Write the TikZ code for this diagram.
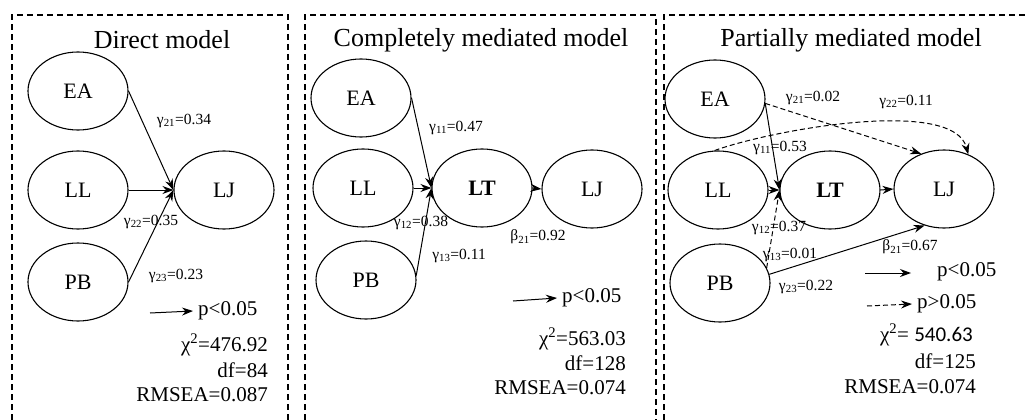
\documentclass[tikz,border=0pt]{standalone}
\usepackage{fontspec}
\setmainfont{Liberation Serif}
\newfontfamily\numfont{Carlito}
\usetikzlibrary{arrows.meta,shapes.geometric}
\tikzset{
  latent/.style={ellipse, draw, line width=1.1pt, minimum width=100pt, minimum height=78pt, inner sep=0pt, font=\fontsize{22}{24}\selectfont},
  coef/.style={inner sep=0pt, font=\fontsize{15.5}{17}\selectfont},
  stat/.style={anchor=east, inner sep=0pt, font=\fontsize{21}{23}\selectfont},
  key/.style={anchor=west, inner xsep=5pt, inner ysep=0pt, font=\fontsize{21}{23}\selectfont},
  heading/.style={inner sep=0pt, font=\fontsize{26}{28}\selectfont},
  panel/.style={line width=1.2pt, dash pattern=on 6pt off 4pt},
  path/.style={->, line width=1pt},
  nspath/.style={->, line width=1pt, dash pattern=on 5pt off 3pt}
}
\begin{document}
\begin{tikzpicture}[x=1pt, y=-1pt, >={Stealth[length=11pt,width=8pt]}]
  \useasboundingbox (0,0) rectangle (1028,420);
  \draw[panel] (12,430) |- (288,15) -- (288,430);
  \draw[panel] (305,430) |- (656,15) -- (656,430);
  \draw[panel] (664,430) |- (1034,15);

  \node[heading] (t1) at (162,40) {Direct model};
  \node[latent] (EA1) at (78,91) {EA};
  \node[latent] (LL1) at (78,190) {LL};
  \node[latent] (PB1) at (78,282) {PB};
  \node[latent] (LJ1) at (224,190) {LJ};
	\draw[path] (EA1.east) -- (LJ1.west);
	\draw[path] (LL1.east) -- (LJ1.west);
	\draw[path] (PB1.east) -- (LJ1.west);
  \node[coef] (g21a) at (184,121) {γ\textsubscript{21}=0.34};
  \node[coef] (g22a) at (151,222) {γ\textsubscript{22}=0.35};
  \node[coef] (g23a) at (176,276) {γ\textsubscript{23}=0.23};
  \coordinate (k1) at (150,313);
  \node[key] (p1) at (193,311) {p<0.05};
	\draw[path] (k1) -- (p1.west);
  \node[stat] (c1) at (268,345) {χ\textsuperscript{2}=476.92};
  \node[stat] (d1) at (268,370) {df=84};
  \node[stat] (r1) at (268,395) {RMSEA=0.087};

  \node[heading] (t2) at (481,40) {Completely mediated model};
  \node[latent] (EA2) at (361,98) {EA};
  \node[latent] (LL2) at (363,188) {LL};
  \node[latent] (PB2) at (366,280) {PB};
  \node[latent] (LT2) at (482,188) {\textbf{LT}};
  \node[latent] (LJ2) at (592,189) {LJ};
	\draw[path] (EA2.east) -- (LT2.west);
	\draw[path] (LL2.east) -- (LT2.west);
	\draw[path] (PB2.5) -- (LT2.west);
	\draw[path] (LT2.east) -- (LJ2.west);
  \node[coef] (g11b) at (456,128) {γ\textsubscript{11}=0.47};
  \node[coef] (g12b) at (421,223) {γ\textsubscript{12}=0.38};
  \node[coef] (g13b) at (459,256) {γ\textsubscript{13}=0.11};
  \node[coef] (b21b) at (538,237) {β\textsubscript{21}=0.92};
  \coordinate (k2) at (513,301);
  \node[key] (p2) at (557,298) {p<0.05};
	\draw[path] (k2) -- (p2.west);
  \node[stat] (c2) at (626,339) {χ\textsuperscript{2}=563.03};
  \node[stat] (d2) at (626,363) {df=128};
  \node[stat] (r2) at (626,388) {RMSEA=0.074};

  \node[heading] (t3) at (851,40) {Partially mediated model};
  \node[latent] (EA3) at (715,99) {EA};
  \node[latent] (LL3) at (718,190) {LL};
  \node[latent] (PB3) at (720,283) {PB};
  \node[latent] (LT3) at (830,190) {\textbf{LT}};
  \node[latent] (LJ3) at (944,189) {LJ};
	\draw[path] (EA3.-5) -- (LT3.west);
	\draw[path] (LL3.east) -- (LT3.west);
	\draw[nspath] (PB3.18) -- (LT3.west);
	\draw[path] (LT3.east) -- (LJ3.west);
	\draw[nspath] (EA3.-5) -- (LJ3.123);
	\draw[nspath] (LL3.95) to[out=20, in=105, looseness=0.6] (LJ3.55);
	\draw[path] (PB3.10) -- (LJ3.242);
  \node[coef] (g21c) at (813,98) {γ\textsubscript{21}=0.02};
  \node[coef] (g22c) at (906,102) {γ\textsubscript{22}=0.11};
  \node[coef] (g11c) at (780,148) {γ\textsubscript{11}=0.53};
  \node[coef] (g12c) at (779,228) {γ\textsubscript{12}=0.37};
  \node[coef] (g13c) at (790,255) {γ\textsubscript{13}=0.01};
  \node[coef] (b21c) at (910,247) {β\textsubscript{21}=0.67};
  \node[coef] (g23c) at (806,287) {γ\textsubscript{23}=0.22};
  \coordinate (k3a) at (865,273);
  \coordinate (k3b) at (911,273);
  \node[key] (p3a) at (932,272) {p<0.05};
	\draw[path] (k3a) -- (k3b);
  \coordinate (k3c) at (867,306);
  \node[key] (p3b) at (912,304) {p>0.05};
	\draw[nspath] (k3c) -- (p3b.west);
  \node[stat] (c3) at (973,335) {χ\textsuperscript{2}= {\numfont 540.63}};
  \node[stat] (d3) at (976,361) {df=125};
  \node[stat] (r3) at (976,387) {RMSEA=0.074};
\end{tikzpicture}
\end{document}
